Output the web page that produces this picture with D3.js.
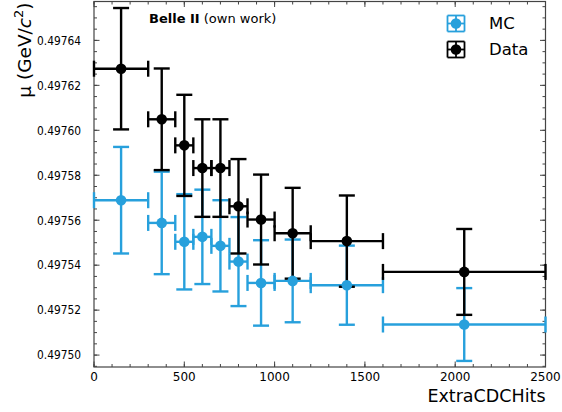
<!DOCTYPE html>
<html>
<head>
<meta charset="utf-8">
<script src="https://cdn.jsdelivr.net/npm/d3@7"></script>
<style>
  body { margin: 0; background: #fff; }
  text { font-family: "DejaVu Sans", sans-serif; fill: #000; }
</style>
</head>
<body>
<div id="chart"></div>
<script>
// bins in ExtraCDCHits
var binLo = [0, 300, 450, 550, 650, 750, 850, 1000, 1200, 1600];
var binHi = [300, 450, 550, 650, 750, 850, 1000, 1200, 1600, 2500];
var binMid = [150, 375, 500, 600, 700, 800, 925, 1100, 1400, 2050];

// fitted mean mu (GeV/c^2) and its uncertainty
var dataMu = [0.4976274, 0.4976049, 0.4975933, 0.4975832, 0.4975832, 0.4975662, 0.4975603, 0.4975542, 0.4975507, 0.4975370];
var dataErr = [0.0000270, 0.0000226, 0.0000225, 0.0000217, 0.0000217, 0.0000210, 0.0000200, 0.0000202, 0.0000203, 0.0000191];
var mcMu = [0.4975689, 0.4975588, 0.4975504, 0.4975526, 0.4975486, 0.4975416, 0.4975321, 0.4975330, 0.4975311, 0.4975136];
var mcErr = [0.0000237, 0.0000228, 0.0000212, 0.0000210, 0.0000203, 0.0000198, 0.0000190, 0.0000184, 0.0000176, 0.0000162];

var xTicks = [0, 500, 1000, 1500, 2000, 2500];
var yTicks = [0.49750, 0.49752, 0.49754, 0.49756, 0.49758, 0.49760, 0.49762, 0.49764];

var mcColor = "#27a0dc";
var dataColor = "#000000";

var width = 562, height = 412;
var margin = {left: 94, right: 16.5, top: 1.5, bottom: 45};
var w = width - margin.left - margin.right;
var h = height - margin.top - margin.bottom;

var svg = d3.select("#chart").append("svg")
    .attr("width", width)
    .attr("height", height);

var x = d3.scaleLinear().domain([0, 2500]).range([0, w]);
var y = d3.scaleLinear().domain([0.4974947, 0.4976573]).range([h, 0]);

var g = svg.append("g")
    .attr("transform", "translate(" + margin.left + "," + margin.top + ")");

// ticks, inward on all four sides
var axisColor = "#444";
var xMinor = d3.range(0, 2501, 100);
var yMinor = d3.range(0.497495, 0.497657, 0.000005);

function addTicks(vals, len) {
    vals.forEach(function(v) {
        var px = x(v);
        g.append("line").attr("x1", px).attr("x2", px).attr("y1", h).attr("y2", h - len)
            .attr("stroke", axisColor).attr("stroke-width", 1);
        g.append("line").attr("x1", px).attr("x2", px).attr("y1", 0).attr("y2", len)
            .attr("stroke", axisColor).attr("stroke-width", 1);
    });
}
function addYTicks(vals, len) {
    vals.forEach(function(v) {
        var py = y(v);
        if (py < 0 || py > h) return;
        g.append("line").attr("x1", 0).attr("x2", len).attr("y1", py).attr("y2", py)
            .attr("stroke", axisColor).attr("stroke-width", 1);
        g.append("line").attr("x1", w).attr("x2", w - len).attr("y1", py).attr("y2", py)
            .attr("stroke", axisColor).attr("stroke-width", 1);
    });
}
addTicks(xMinor, 3);
addTicks(xTicks, 5.5);
addYTicks(yMinor, 3);
addYTicks(yTicks, 5.5);

g.selectAll(".xlab").data(xTicks).enter().append("text")
    .attr("x", function(d){ return x(d); })
    .attr("y", h + 14)
    .attr("text-anchor", "middle")
    .attr("font-size", 12)
    .text(function(d){ return d; });

g.selectAll(".ylab").data(yTicks).enter().append("text")
    .attr("x", -13)
    .attr("y", function(d){ return y(d); })
    .attr("dy", "0.36em")
    .attr("text-anchor", "end")
    .attr("font-size", 12)
    .attr("textLength", 44)
    .attr("lengthAdjust", "spacingAndGlyphs")
    .text(function(d){ return d.toFixed(5); });

g.append("rect")
    .attr("width", w).attr("height", h)
    .attr("fill", "none")
    .attr("stroke", axisColor)
    .attr("stroke-width", 1.2);

// error bars
var cap = 8;
function drawBars(mu, err, color) {
    var eb = g.append("g").attr("stroke", color).attr("stroke-width", 2.4).attr("fill", "none");
    mu.forEach(function(m, i) {
        var x0 = x(binLo[i]), x1 = x(binHi[i]), xc = x(binMid[i]);
        var yc = y(m), yt = y(m + err[i]), yb = y(m - err[i]);
        eb.append("line").attr("x1", x0).attr("x2", x1).attr("y1", yc).attr("y2", yc);
        eb.append("line").attr("x1", xc).attr("x2", xc).attr("y1", yt).attr("y2", yb);
        eb.append("line").attr("x1", x0).attr("x2", x0).attr("y1", yc - cap).attr("y2", yc + cap);
        eb.append("line").attr("x1", x1).attr("x2", x1).attr("y1", yc - cap).attr("y2", yc + cap);
        eb.append("line").attr("x1", xc - cap).attr("x2", xc + cap).attr("y1", yt).attr("y2", yt);
        eb.append("line").attr("x1", xc - cap).attr("x2", xc + cap).attr("y1", yb).attr("y2", yb);
    });
}
function drawDots(mu, color) {
    g.append("g").selectAll("circle").data(mu).enter().append("circle")
        .attr("cx", function(d, i){ return x(binMid[i]); })
        .attr("cy", function(d){ return y(d); })
        .attr("r", 5.3)
        .attr("fill", color);
}
drawBars(mcMu, mcErr, mcColor);
drawBars(dataMu, dataErr, dataColor);
drawDots(mcMu, mcColor);
drawDots(dataMu, dataColor);

// experiment label
var lab = svg.append("text").attr("x", 149).attr("y", 23).attr("font-size", 13);
lab.append("tspan").attr("font-weight", "bold").text("Belle II");
lab.append("tspan").text(" (own work)");

// legend
var legend = [{name: "MC", color: mcColor}, {name: "Data", color: dataColor}];
legend.forEach(function(d, i) {
    var lg = svg.append("g").attr("transform", "translate(456," + (23.5 + i * 26) + ")");
    var s = lg.append("g").attr("stroke", d.color).attr("stroke-width", 1.8).attr("fill", "none");
    s.append("line").attr("x1", -8.5).attr("x2", 8.5).attr("y1", 0).attr("y2", 0);
    s.append("line").attr("x1", 0).attr("x2", 0).attr("y1", -8).attr("y2", 8);
    s.append("line").attr("x1", -8.5).attr("x2", -8.5).attr("y1", -8).attr("y2", 8);
    s.append("line").attr("x1", 8.5).attr("x2", 8.5).attr("y1", -8).attr("y2", 8);
    s.append("line").attr("x1", -8.5).attr("x2", 8.5).attr("y1", -8).attr("y2", -8);
    s.append("line").attr("x1", -8.5).attr("x2", 8.5).attr("y1", 8).attr("y2", 8);
    lg.append("circle").attr("r", 5.3).attr("fill", d.color);
    lg.append("text").attr("x", 33).attr("dy", "0.36em").attr("font-size", 16.5).text(d.name);
});

// axis labels
svg.append("text")
    .attr("x", margin.left + w)
    .attr("y", 402)
    .attr("text-anchor", "end")
    .attr("font-size", 17.5)
    .text("ExtraCDCHits");

var yl = svg.append("text")
    .attr("transform", "translate(31," + (margin.top + 1) + ") rotate(-90)")
    .attr("text-anchor", "end")
    .attr("font-size", 18.5);
yl.append("tspan").text("\u03bc (GeV/");
yl.append("tspan").attr("font-style", "italic").text("c");
yl.append("tspan").attr("font-size", 13).attr("dy", -8).text("2");
yl.append("tspan").attr("dy", 8).text(")");
</script>
</body>
</html>
